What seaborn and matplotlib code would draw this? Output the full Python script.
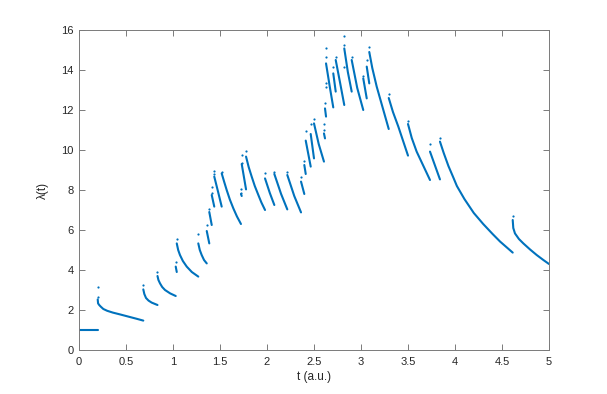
"""
Intensity lambda(t) of a self-exciting point process, drawn segment by segment
"""

import pandas as pd
import matplotlib
matplotlib.use("Agg")
import matplotlib.pyplot as plt
import seaborn as sns

sns.set_style("ticks")
plt.rcParams['font.family'] = ['Liberation Sans', 'DejaVu Sans']

LINE_COLOR = '#0072BD'
AXIS_COLOR = '#7a7a7a'
TEXT_COLOR = '#262626'

# Decay segments between events: (segment id, t, lambda)
seg_id = [0, 0,
          1, 1, 1, 1, 1, 1, 1, 1, 1, 1,
          2, 2, 2, 2, 2, 2,
          3, 3, 3, 3, 3, 3, 3,
          4, 4,
          5, 5, 5, 5, 5, 5, 5,
          6, 6, 6, 6, 6,
          7, 7,
          8, 8,
          9, 9,
          10, 10, 10,
          11, 11, 11, 11, 11, 11, 11,
          12, 12,
          13, 13,
          14, 14, 14, 14, 14, 14, 14,
          15, 15, 15,
          16, 16, 16,
          17, 17, 17,
          18, 18,
          19, 19,
          20, 20,
          21, 21,
          22, 22, 22,
          23, 23,
          24, 24,
          25, 25, 25,
          26, 26,
          27, 27, 27,
          28, 28, 28,
          29, 29, 29,
          30, 30,
          31, 31,
          32, 32, 32, 32,
          33, 33, 33, 33,
          34, 34, 34, 34,
          35, 35,
          36, 36, 36, 36, 36, 36, 36, 36, 36, 36, 36,
          37, 37, 37, 37, 37, 37, 37, 37, 37]
seg_t = [0.0, 0.199,
         0.199, 0.203, 0.215, 0.231, 0.259, 0.300, 0.360, 0.436, 0.614, 0.684,
         0.684, 0.695, 0.713, 0.740, 0.773, 0.835,
         0.835, 0.845, 0.862, 0.885, 0.915, 0.970, 1.029,
         1.029, 1.040,
         1.040, 1.055, 1.074, 1.105, 1.146, 1.200, 1.269,
         1.269, 1.285, 1.305, 1.330, 1.359,
         1.359, 1.386,
         1.386, 1.412,
         1.412, 1.439,
         1.439, 1.480, 1.518,
         1.518, 1.545, 1.571, 1.605, 1.642, 1.680, 1.723,
         1.723, 1.731,
         1.731, 1.777,
         1.777, 1.805, 1.837, 1.870, 1.908, 1.940, 1.979,
         1.979, 2.030, 2.078,
         2.078, 2.150, 2.216,
         2.216, 2.290, 2.362,
         2.362, 2.397,
         2.397, 2.412,
         2.412, 2.465,
         2.465, 2.500,
         2.500, 2.550, 2.606,
         2.606, 2.617,
         2.617, 2.628,
         2.628, 2.670, 2.705,
         2.705, 2.731,
         2.731, 2.780, 2.822,
         2.822, 2.860, 2.901,
         2.901, 2.960, 3.024,
         3.024, 3.061,
         3.061, 3.088,
         3.088, 3.120, 3.167, 3.295,
         3.295, 3.340, 3.397, 3.500,
         3.500, 3.540, 3.592, 3.734,
         3.734, 3.840,
         3.840, 3.880, 3.930, 3.980, 4.020, 4.100, 4.200, 4.300, 4.400, 4.480, 4.614,
         4.614, 4.620, 4.638, 4.680, 4.727, 4.800, 4.869, 4.940, 5.0]
seg_lam = [1.0, 1.0,
           2.53, 2.33, 2.25, 2.17, 2.05, 1.96, 1.87, 1.78, 1.56, 1.47,
           3.03, 2.80, 2.60, 2.47, 2.37, 2.25,
           3.70, 3.50, 3.33, 3.15, 3.00, 2.83, 2.70,
           4.17, 3.90,
           5.33, 5.00, 4.75, 4.45, 4.17, 3.90, 3.67,
           5.33, 5.00, 4.75, 4.50, 4.33,
           5.95, 5.33,
           6.90, 6.25,
           7.75, 7.17,
           8.67, 7.90, 7.17,
           8.83, 8.40, 8.00, 7.52, 7.08, 6.68, 6.30,
           7.80, 7.70,
           9.30, 8.03,
           9.67, 9.15, 8.67, 8.20, 7.75, 7.38, 7.00,
           8.58, 7.85, 7.25,
           8.80, 7.80, 7.03,
           8.75, 7.70, 6.88,
           8.42, 7.80,
           9.25, 8.80,
           10.47, 9.17,
           10.80, 9.58,
           11.33, 10.30, 9.42,
           10.83, 10.58,
           12.08, 11.67,
           14.33, 13.10, 12.13,
           13.83, 12.92,
           14.50, 13.30, 12.25,
           15.08, 13.90, 12.92,
           14.50, 13.10, 12.00,
           13.58, 12.58,
           14.17, 13.33,
           14.90, 14.10, 13.17, 11.05,
           12.60, 11.90, 11.17, 9.72,
           11.30, 10.60, 9.92, 8.50,
           9.92, 8.53,
           10.42, 9.85, 9.20, 8.65, 8.20, 7.55, 6.85, 6.30, 5.80, 5.42, 4.87,
           6.50, 6.10, 5.83, 5.55, 5.33, 5.02, 4.75, 4.50, 4.30]

# Isolated samples just after each jump (steep part of the decay)
dot_t = [0.199, 0.199, 0.684, 0.835, 1.029, 1.040, 1.269, 1.359, 1.386,
         1.412, 1.412, 1.439, 1.439, 1.518, 1.723, 1.723, 1.731, 1.731,
         1.777, 1.979, 2.078, 2.216, 2.362, 2.397, 2.412, 2.465, 2.500,
         2.606, 2.606, 2.617, 2.628, 2.628, 2.628, 2.628, 2.705, 2.731,
         2.822, 2.822, 2.822, 2.901, 3.024, 3.061, 3.088, 3.295, 3.500,
         3.734, 3.840, 4.614]
dot_lam = [3.13, 2.67, 3.25, 3.92, 4.40, 5.55, 5.80, 6.25, 7.05,
           8.17, 7.87, 8.95, 8.78, 8.90, 8.03, 7.83, 9.75, 9.37,
           9.97, 8.83, 8.92, 8.92, 8.63, 9.47, 10.97, 11.30, 11.53,
           11.28, 11.00, 12.37, 13.37, 13.17, 15.08, 14.63, 14.13, 14.67,
           14.17, 15.70, 15.25, 14.67, 13.70, 14.50, 15.17, 12.78, 11.47,
           10.28, 10.62, 6.70]

x_ticks = [0, 0.5, 1, 1.5, 2, 2.5, 3, 3.5, 4, 4.5, 5]
x_tick_labels = ['0', '0.5', '1', '1.5', '2', '2.5', '3', '3.5', '4', '4.5', '5']
y_ticks = [0, 2, 4, 6, 8, 10, 12, 14, 16]


def main():
    curve = pd.DataFrame({'seg': seg_id, 't': seg_t, 'lam': seg_lam})
    dots = pd.DataFrame({'t': dot_t, 'lam': dot_lam})

    fig = plt.figure(figsize=(6.07, 3.94), dpi=100)
    ax = fig.add_axes([79 / 607, 44 / 394, 470 / 607, 320 / 394])

    sns.lineplot(data=curve, x='t', y='lam', units='seg', estimator=None,
                 color=LINE_COLOR, linewidth=1.5, sort=False, legend=False,
                 solid_joinstyle='round', solid_capstyle='round', ax=ax)
    sns.scatterplot(data=dots, x='t', y='lam', color=LINE_COLOR, s=2.5,
                    linewidth=0, legend=False, ax=ax)

    ax.set_xlim(0, 5)
    ax.set_ylim(0, 16)
    ax.set_xticks(x_ticks)
    ax.set_xticklabels(x_tick_labels)
    ax.set_yticks(y_ticks)
    ax.set_xlabel('t (a.u.)', fontsize=8.5, color=TEXT_COLOR, labelpad=3)
    ax.set_ylabel('λ(t)', fontsize=8.5, color=TEXT_COLOR, labelpad=9)

    for side in ['top', 'right', 'bottom', 'left']:
        ax.spines[side].set_visible(True)
        ax.spines[side].set_color(AXIS_COLOR)
        ax.spines[side].set_linewidth(0.7)
    ax.tick_params(direction='in', length=4, width=0.7, color=AXIS_COLOR,
                   labelsize=8, labelcolor=TEXT_COLOR,
                   top=True, right=True)
    ax.tick_params(axis='x', pad=5)
    ax.tick_params(axis='y', pad=4)

    fig.savefig('out.png', dpi=100, facecolor='white')


if __name__ == "__main__":
    main()
